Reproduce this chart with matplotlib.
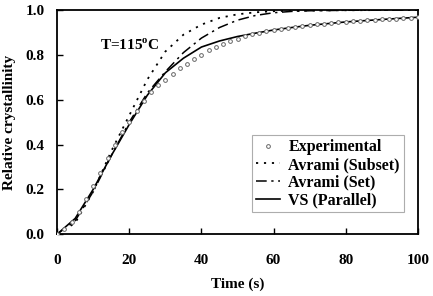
import matplotlib
matplotlib.use("Agg")
import matplotlib.pyplot as plt

plt.rcParams["font.family"] = ["Liberation Serif", "DejaVu Serif"]
plt.rcParams["font.weight"] = "bold"
plt.rcParams["mathtext.fontset"] = "custom"
plt.rcParams["mathtext.rm"] = "Liberation Serif:bold"
plt.rcParams["mathtext.bf"] = "Liberation Serif:bold"

# experimental points (every 2 s)
t_exp = list(range(0, 101, 2))
x_exp = [0.0, 0.025, 0.055, 0.10, 0.155, 0.215, 0.275, 0.34, 0.40, 0.455,
         0.50, 0.55, 0.595, 0.635, 0.665, 0.69, 0.715, 0.74, 0.76, 0.78,
         0.80, 0.82, 0.835, 0.85, 0.862, 0.873, 0.883, 0.891, 0.898, 0.905,
         0.911, 0.916, 0.921, 0.925, 0.929, 0.933, 0.936, 0.939, 0.942, 0.945,
         0.948, 0.950, 0.952, 0.954, 0.956, 0.958, 0.960, 0.962, 0.964, 0.966,
         0.968]

# model curves
t_fit = [0, 5, 10, 15, 20, 25, 30, 35, 40, 45, 50, 55, 60, 65, 70, 80, 90, 100]
x_subset = [0.0, 0.05, 0.19, 0.37, 0.53, 0.69, 0.815, 0.89, 0.935, 0.965,
            0.981, 0.99, 0.995, 0.997, 0.998, 0.999, 1.0, 1.0]
x_set = [0.0, 0.06, 0.19, 0.35, 0.50, 0.63, 0.725, 0.81, 0.875, 0.922,
         0.955, 0.976, 0.988, 0.994, 0.997, 0.999, 1.0, 1.0]
x_vs = [0.0, 0.07, 0.20, 0.35, 0.49, 0.62, 0.72, 0.785, 0.835, 0.862,
        0.882, 0.897, 0.911, 0.922, 0.932, 0.947, 0.958, 0.968]

fig = plt.figure(figsize=(4.33, 2.96), dpi=100)
ax = fig.add_axes([0.132, 0.209, 0.833, 0.757])

ax.plot(t_exp, x_exp, linestyle="none", marker="o", ms=2.7, mfc="white",
        mec="#666666", mew=0.7, label="Experimental", zorder=3)
ax.plot(t_fit, x_subset, color="black", lw=1.3, linestyle=(0, (1.2, 3.2)),
        label="Avrami (Subset)")
ax.plot(t_fit, x_set, color="black", lw=1.1, linestyle=(0, (7, 3, 1.5, 3)),
        label="Avrami (Set)")
ax.plot(t_fit, x_vs, color="black", lw=1.2, label="VS (Parallel)")

ax.set_xlim(0, 100)
ax.set_ylim(0, 1.0)
ax.set_xticks([0, 20, 40, 60, 80, 100])
ax.set_yticks([0.0, 0.2, 0.4, 0.6, 0.8, 1.0])
ax.set_yticklabels(["0.0", "0.2", "0.4", "0.6", "0.8", "1.0"])
ax.tick_params(direction="in", length=4, width=1, labelsize=11)
ax.tick_params(axis="x", pad=14)
ax.tick_params(axis="y", pad=9)
for s in ax.spines.values():
    s.set_linewidth(1.3)

ax.set_xlabel("Time (s)", fontsize=11, fontweight="bold", labelpad=8)
ax.set_ylabel("Relative crystallinity", fontsize=11, fontweight="bold", labelpad=7)

ax.text(12, 0.845, r"T=115$^{\mathregular{o}}$C", fontsize=11, fontweight="bold",
        va="center")

leg = ax.legend(loc="lower right", bbox_to_anchor=(0.961, 0.098), borderaxespad=0,
                frameon=True, fancybox=False, edgecolor="#999999",
                handlelength=1.5, handletextpad=0.5, borderpad=0.25,
                labelspacing=0.1, prop={"weight": "bold", "size": 11.5})
leg.get_frame().set_linewidth(0.8)

fig.savefig("out.png", dpi=100)
